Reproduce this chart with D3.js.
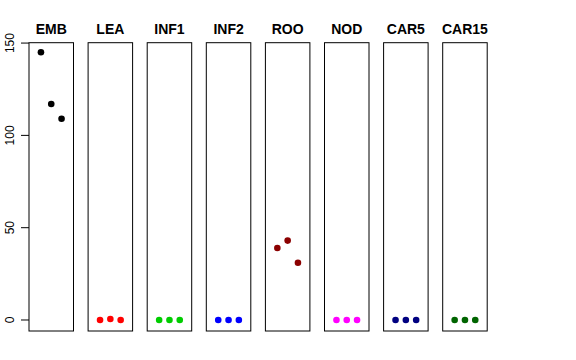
<!DOCTYPE html>
<meta charset="utf-8">
<style>
body { margin: 0; background: #fff; }
svg { font-family: "Liberation Sans", Arial, sans-serif; }
.title { font-size: 14px; font-weight: bold; fill: #000; }
.tick-label { font-size: 12px; fill: #000; }
</style>
<body>
<script src="https://cdn.jsdelivr.net/npm/d3@7"></script>
<script>
var panels = ["EMB", "LEA", "INF1", "INF2", "ROO", "NOD", "CAR5", "CAR15"];
var colors = ["#000000", "#ff0000", "#00cd00", "#0000ff", "#8b0000", "#ff00ff", "#000080", "#006400"];
var values = [
  [145, 117, 109],
  [0, 0.5, 0],
  [0, 0, 0],
  [0, 0, 0],
  [39, 43, 31],
  [0, 0, 0],
  [0, 0, 0],
  [0, 0, 0]
];
var yTicks = [0, 50, 100, 150];

var width = 576, height = 360;
var plotTop = 42.7, plotBottom = 331;
var firstLeft = 29, step = 59.1, panelW = 44.5;

var svg = d3.select("body").append("svg")
  .attr("width", width)
  .attr("height", height);

var y = d3.scaleLinear()
  .domain([-5.96, 150.2])
  .range([plotBottom, plotTop]);

var x = d3.scaleLinear()
  .domain([-0.16, 4.16])
  .range([0, panelW]);

// y axis on the first panel
var yAxis = svg.append("g")
  .attr("transform", "translate(" + firstLeft + ",0)");

yAxis.selectAll("line")
  .data(yTicks)
  .enter().append("line")
    .attr("x1", -8).attr("x2", 0)
    .attr("y1", function(d) { return y(d); })
    .attr("y2", function(d) { return y(d); })
    .attr("stroke", "#000");

yAxis.selectAll("text")
  .data(yTicks)
  .enter().append("text")
    .attr("class", "tick-label")
    .attr("text-anchor", "middle")
    .attr("transform", function(d) { return "translate(-15.5," + y(d) + ") rotate(-90)"; })
    .text(function(d) { return d; });

var panel = svg.selectAll("g.panel")
  .data(panels)
  .enter().append("g")
    .attr("class", "panel")
    .attr("transform", function(d, i) { return "translate(" + (firstLeft + step * i) + ",0)"; });

panel.append("rect")
  .attr("x", 0)
  .attr("y", plotTop)
  .attr("width", panelW)
  .attr("height", plotBottom - plotTop)
  .attr("fill", "none")
  .attr("stroke", "#000")
  .attr("stroke-width", 1);

panel.append("text")
  .attr("class", "title")
  .attr("x", panelW / 2)
  .attr("y", 34)
  .attr("text-anchor", "middle")
  .text(function(d) { return d; });

panel.each(function(d, i) {
  d3.select(this).selectAll("circle")
    .data(values[i])
    .enter().append("circle")
      .attr("cx", function(v, j) { return x(j + 1); })
      .attr("cy", function(v) { return y(v); })
      .attr("r", 3.3)
      .attr("fill", colors[i]);
});
</script>
</body>
